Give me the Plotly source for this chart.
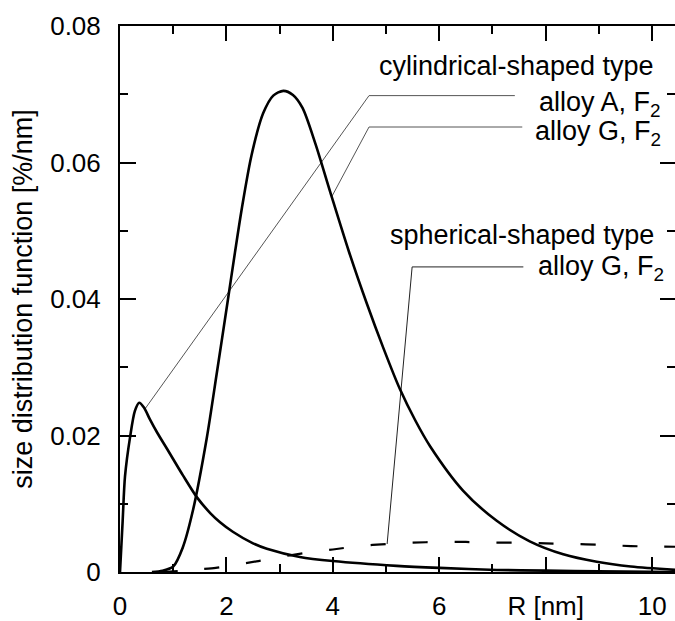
import plotly.graph_objects as go

# Size distribution functions, R in nm, value in %/nm
r_cyl_A = [0.0, 0.05, 0.094, 0.19, 0.28, 0.36, 0.45, 0.56, 0.7, 0.88, 1.18, 1.45, 1.7,
           1.88, 2.12, 2.5, 2.76, 3.38, 4.0, 5.2, 6.0, 7.08, 8.0, 9.0, 10.45]
f_cyl_A = [0.0, 0.0075, 0.014, 0.0198, 0.0236, 0.0248, 0.0241, 0.0224, 0.0204, 0.0181,
           0.0142, 0.0109, 0.0086, 0.0073, 0.0059, 0.0042, 0.0034, 0.0022, 0.0016,
           0.0009, 0.0006, 0.0003, 0.0002, 0.0001, 0.0]

r_cyl_G = [0.6, 0.8, 1.0, 1.18, 1.37, 1.63, 1.82, 2.03, 2.16, 2.29, 2.47, 2.69,
           2.88, 3.07, 3.25, 3.43, 3.67, 3.95, 4.3, 4.64, 4.95, 5.26, 5.55, 5.83, 6.45,
           7.08, 7.7, 8.33, 8.96, 9.6, 10.45]
f_cyl_G = [0.0, 0.0002, 0.0008, 0.0036, 0.0090, 0.0196, 0.0292, 0.0400, 0.0468,
           0.0533, 0.0610, 0.0672, 0.0698, 0.0705, 0.0699, 0.0680, 0.0628, 0.0557,
           0.0470, 0.0393, 0.0328, 0.0268, 0.0222, 0.0184, 0.0119, 0.0075, 0.0045,
           0.0026, 0.0015, 0.0008, 0.0003]

r_sph_G = [0.8, 1.2, 1.5, 1.8, 2.2, 2.6, 3.0, 3.5, 4.0, 4.5, 5.0, 5.5, 6.0, 6.5, 7.0,
           7.5, 8.0, 8.5, 9.0, 9.6, 10.45]
f_sph_G = [0.0, 0.0002, 0.0004, 0.0006, 0.0011, 0.0016, 0.0022, 0.0028, 0.0033, 0.0038,
           0.0041, 0.0043, 0.0044, 0.0044, 0.0043, 0.0043, 0.0042, 0.0041, 0.0040,
           0.0038, 0.0037]

# Leader lines from labels to curves
lead_cyl_A_x = [7.42, 4.68, 0.47]
lead_cyl_A_y = [0.0698, 0.0698, 0.0239]
lead_cyl_G_x = [7.56, 4.68, 3.98]
lead_cyl_G_y = [0.0652, 0.0652, 0.0550]
lead_sph_G_x = [7.58, 5.49, 5.02]
lead_sph_G_y = [0.0447, 0.0447, 0.0041]

x_tickvals = [0, 2, 4, 6, 8, 10]
x_ticktext = ["0", "2", "4", "6", "R [nm]", "10"]
x_minor = [1, 3, 5, 7, 9]
y_tickvals = [0, 0.02, 0.04, 0.06, 0.08]
y_ticktext = ["0", "0.02", "0.04", "0.06", "0.08"]
y_minor = [0.01, 0.03, 0.05, 0.07]

X_RANGE = [0, 10.43]
Y_RANGE = [0, 0.08]
FONT = "Liberation Sans, Arial, Helvetica, sans-serif"

fig = go.Figure()

for xs, ys, col in [(lead_cyl_A_x, lead_cyl_A_y, "#555"),
                    (lead_cyl_G_x, lead_cyl_G_y, "#555"),
                    (lead_sph_G_x, lead_sph_G_y, "#222")]:
    fig.add_trace(go.Scatter(x=xs, y=ys, mode="lines",
                             line=dict(color=col, width=1), hoverinfo="skip"))

fig.add_trace(go.Scatter(x=r_cyl_A, y=f_cyl_A, mode="lines", name="cylindrical, alloy A",
                         line=dict(color="black", width=2.6, shape="spline", smoothing=0.8)))
fig.add_trace(go.Scatter(x=r_cyl_G, y=f_cyl_G, mode="lines", name="cylindrical, alloy G",
                         line=dict(color="black", width=2.6, shape="spline", smoothing=0.8)))
fig.add_trace(go.Scatter(x=r_sph_G, y=f_sph_G, mode="lines", name="spherical, alloy G",
                         line=dict(color="black", width=2.2, dash="15px,27px",
                                   shape="spline", smoothing=0.8)))

# carrier trace for the mirrored (top/right) tick axes
fig.add_trace(go.Scatter(x=[None], y=[None], xaxis="x2", yaxis="y2",
                         mode="lines", hoverinfo="skip"))

labels = [
    ("cylindrical-shaped type", 10.07, 0.0742),
    ("alloy A, F<sub>2</sub>", 10.2, 0.0686),
    ("alloy G, F<sub>2</sub>", 10.2, 0.0643),
    ("spherical-shaped type", 10.07, 0.0494),
    ("alloy G, F<sub>2</sub>", 10.26, 0.0446),
]
for text, x, y in labels:
    fig.add_annotation(x=x, y=y, xref="x", yref="y", text=text, showarrow=False,
                       xanchor="right", yanchor="middle",
                       font=dict(family=FONT, size=27, color="black"))

tick_common = dict(ticks="inside", tickcolor="black", tickwidth=2, showgrid=False,
                   zeroline=False)

fig.update_layout(
    width=675, height=621,
    margin=dict(l=120, r=0, t=26, b=45),
    paper_bgcolor="white", plot_bgcolor="white",
    showlegend=False, hovermode=False,
    font=dict(family=FONT, size=26, color="black"),
    xaxis=dict(range=X_RANGE, tickmode="array", tickvals=x_tickvals, ticktext=x_ticktext,
               ticklen=15, showline=True, linecolor="black", linewidth=2, mirror=True,
               ticklabelstandoff=10,
               minor=dict(tickmode="array", tickvals=x_minor, ticks="inside", ticklen=8,
                          tickwidth=2, tickcolor="black", showgrid=False),
               **tick_common),
    yaxis=dict(range=Y_RANGE, tickmode="array", tickvals=y_tickvals, ticktext=y_ticktext,
               ticklen=16, showline=True, linecolor="black", linewidth=2, mirror=False,
               ticklabelstandoff=12,
               title=dict(text="size distribution function [%/nm]", standoff=10,
                          font=dict(family=FONT, size=27)),
               minor=dict(tickmode="array", tickvals=y_minor, ticks="inside", ticklen=8,
                          tickwidth=2, tickcolor="black", showgrid=False),
               **tick_common),
    xaxis2=dict(range=X_RANGE, overlaying="x", side="top", anchor="y2",
                tickmode="array", tickvals=x_tickvals, showticklabels=False,
                ticklen=15, showline=False,
                minor=dict(tickmode="array", tickvals=x_minor, ticks="inside", ticklen=8,
                           tickwidth=2, tickcolor="black", showgrid=False),
                **tick_common),
    yaxis2=dict(range=Y_RANGE, overlaying="y", side="right", anchor="x2",
                tickmode="array", tickvals=y_tickvals, showticklabels=False,
                ticklen=15, showline=False,
                minor=dict(tickmode="array", tickvals=y_minor, ticks="inside", ticklen=8,
                           tickwidth=2, tickcolor="black", showgrid=False),
                **tick_common),
)

fig.write_html("out.html")
